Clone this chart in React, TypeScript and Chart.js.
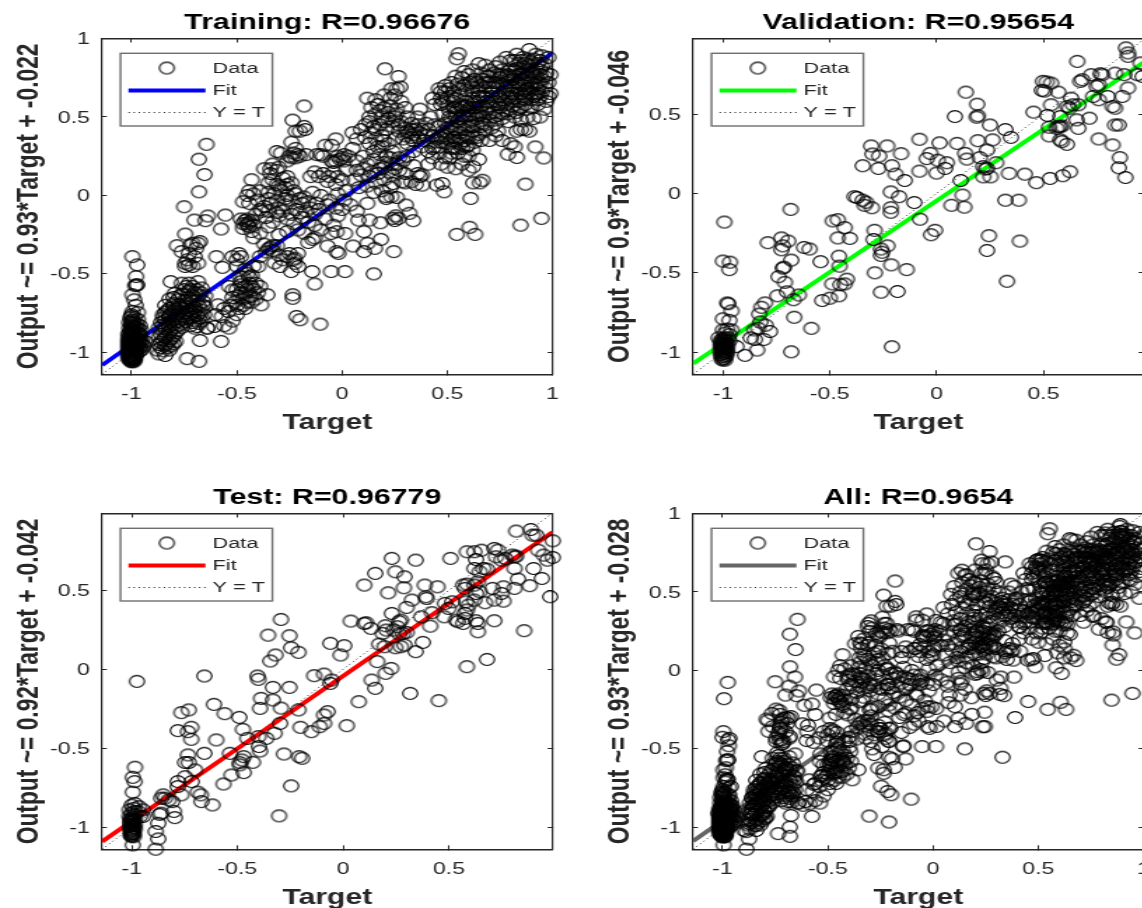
import React, { useEffect, useRef } from "react";
import { Chart, registerables } from "chart.js";

Chart.register(...registerables);

const trainingPoints: number[][] = [
[-0.996,-0.39],[-0.973,-0.443],[-0.978,-0.517],[-0.978,-0.57],[-0.973,-0.57],[-0.982,-0.575],[-0.996,-0.633],[-0.987,-0.665],[-0.98,-0.7],[-0.995,-0.74],[-0.97,-0.745],[-1,-0.77],[-0.985,-0.78],[-0.97,-0.79],[-1,-0.8],[-0.99,-0.81],[-0.975,-0.82],[-0.96,-0.83],[-1,-0.83],[-0.985,-0.84],[-1,-0.85],[-0.97,-0.85],[-0.955,-0.86],[-1,-0.87],[-0.985,-0.87],[-0.965,-0.88],[-1.01,-0.88],[-1,-0.89],[-0.985,-0.9],[-0.96,-0.9],[-1.01,-0.905],[-0.995,-0.91],[-0.975,-0.915],[-0.95,-0.92],[-1.01,-0.925],[-1,-0.93],[-0.985,-0.935],[-0.965,-0.94],[-0.935,-0.93],[-1.01,-0.945],[-1,-0.95],[-0.985,-0.955],[-0.97,-0.96],[-0.95,-0.95],[-1.01,-0.965],[-1,-0.97],[-0.99,-0.975],[-0.975,-0.98],[-0.96,-0.97],[-1.01,-0.985],[-1,-0.99],[-0.99,-0.995],[-0.98,-1],[-1.01,-1.005],[-1,-1.01],[-0.99,-1.015],[-0.98,-1.02],[-1.01,-1.025],[-1,-1.03],[-0.99,-1.035],[-1.005,-1.04],[-0.995,-1.045],[-1,-1.05],[-0.985,-1.05],
[-0.745,-0.246],[-0.784,-0.32],[-0.762,-0.358],[-0.71,-0.305],[-0.684,-0.305],[-0.675,-0.294],[-0.719,-0.316],[-0.693,-0.337],[-0.727,-0.369],[-0.745,-0.432],[-0.71,-0.453],[-0.727,-0.443],[-0.745,-0.453],[-0.684,-0.432],[-0.7,-0.39],[-0.735,-0.41],[-0.597,-0.39],[-0.568,-0.458],[-0.814,-0.549],[-0.762,-0.559],[-0.727,-0.559],[-0.684,-0.549],[-0.71,-0.58],[-0.667,-0.59],[-0.75,-0.6],[-0.69,-0.6],[-0.73,-0.61],[-0.795,-0.625],[-0.77,-0.64],[-0.71,-0.64],[-0.68,-0.635],[-0.65,-0.64],[-0.82,-0.66],[-0.78,-0.665],[-0.75,-0.67],[-0.72,-0.665],[-0.69,-0.67],[-0.66,-0.675],[-0.8,-0.69],[-0.77,-0.695],[-0.74,-0.69],[-0.71,-0.7],[-0.68,-0.705],[-0.65,-0.71],[-0.82,-0.72],[-0.79,-0.725],[-0.76,-0.72],[-0.73,-0.73],[-0.7,-0.735],[-0.67,-0.73],[-0.84,-0.745],[-0.81,-0.75],[-0.78,-0.755],[-0.75,-0.75],[-0.72,-0.76],[-0.69,-0.765],[-0.655,-0.76],[-0.85,-0.78],[-0.82,-0.78],[-0.79,-0.785],[-0.76,-0.79],[-0.73,-0.785],[-0.7,-0.795],[-0.67,-0.8],[-0.86,-0.81],[-0.83,-0.815],[-0.8,-0.82],[-0.77,-0.825],[-0.72,-0.83],[-0.69,-0.835],[-0.64,-0.845],[-0.87,-0.845],[-0.84,-0.85],[-0.81,-0.855],[-0.78,-0.86],[-0.86,-0.885],[-0.83,-0.89],[-0.8,-0.895],[-0.85,-0.92],[-0.82,-0.925],[-0.79,-0.93],[-0.87,-0.95],[-0.84,-0.955],[-0.81,-0.96],[-0.88,-0.985],[-0.85,-0.99],[-0.82,-0.985],[-0.87,-1.01],[-0.84,-1.02],[-0.675,-0.924],[-0.575,-0.93],[-0.736,-1.04],[-0.679,-1.057],[-0.537,-0.845],[-0.606,-0.835],[-0.589,-0.697],[-0.571,-0.771],[-0.641,-0.845],
[-0.644,0.326],[-0.68,0.231],[-0.653,0.133],[-0.679,0.023],[-0.75,-0.072],[-0.701,-0.157],[-0.649,-0.161],[-0.637,-0.131],[-0.554,-0.125],[-0.575,-0.214],
[-0.384,-0.697],[-0.355,-0.633],[-0.433,-0.644],[-0.459,-0.623],[-0.519,-0.602],[-0.537,-0.58],[-0.485,-0.517],[-0.45,-0.496],[-0.398,-0.453],[-0.5,-0.76],[-0.54,-0.74],[-0.47,-0.7],[-0.51,-0.68],[-0.49,-0.64],[-0.52,-0.65],[-0.46,-0.58],[-0.42,-0.6],[-0.4,-0.62],[-0.44,-0.56],[-0.48,-0.55],[-0.47,-0.52],[-0.43,-0.51],[-0.41,-0.66],[-0.56,-0.72],[-0.6,-0.76],[-0.52,-0.8],[-0.56,-0.83],[-0.49,-0.72],[-0.45,-0.68],[-0.5,-0.45],[-0.52,-0.39],[-0.49,-0.37],[-0.5,-0.41],[-0.48,-0.39],[-0.42,-0.45],[-0.46,-0.47],
[-0.234,-0.633],[-0.234,-0.655],[-0.216,-0.771],[-0.199,-0.792],[-0.104,-0.82],[-0.13,-0.564],[-0.142,-0.485],[-0.242,-0.485],[-0.208,-0.453],[-0.294,-0.453],[-0.225,-0.4],[-0.26,-0.39],[-0.225,-0.432],[-0.052,-0.485],[0.014,-0.485],[0.151,-0.5],[0.246,-0.358],[0.104,-0.358],[-0.017,-0.369],[-0.026,-0.358],[0.185,-0.28],[0.156,-0.337],[0.121,-0.305],[0.052,-0.322],[0.104,-0.231],[-0.069,-0.322],[-0.052,-0.242],[0.014,-0.242],[-0.026,-0.231],[0.13,-0.157],[0.078,-0.157],[0.182,-0.174],[0.242,-0.146],[0.268,-0.146],[0.338,-0.161],[0.32,-0.114],[0.303,-0.061],[0.26,-0.013],[0.234,-0.008],[0.208,-0.008],[0.25,-0.16],[0.255,-0.13],
[-0.35,-0.34],[-0.34,-0.33],[-0.33,-0.35],[-0.37,-0.31],[-0.31,-0.32],[-0.39,-0.39],[-0.3,-0.38],[-0.28,-0.41],[-0.32,-0.43],[-0.16,-0.3],[-0.14,-0.28],[-0.13,-0.27],[-0.18,-0.24],[-0.21,-0.22],[-0.26,-0.23],[-0.3,-0.25],[-0.35,-0.2],[-0.39,-0.24],[-0.43,-0.23],[-0.45,-0.19],[-0.44,-0.17],[-0.46,-0.16],[-0.43,-0.16],[-0.48,-0.15],[-0.47,-0.21],[-0.42,-0.27],[-0.41,-0.12],[-0.38,-0.1],[-0.36,-0.14],[-0.33,-0.17],[-0.3,-0.13],[-0.26,-0.15],[-0.23,-0.18],[-0.19,-0.14],[-0.16,-0.17],[-0.13,-0.19],[-0.1,-0.22],[-0.08,-0.15],[-0.04,-0.19],[-0.02,-0.13],[-0.03,-0.08],[-0.07,-0.06],[-0.11,-0.09],[-0.15,-0.08],[-0.19,-0.05],[-0.22,-0.09],[-0.27,-0.06],[-0.3,-0.08],[-0.34,-0.05],[-0.37,-0.07],[-0.4,-0.03],[-0.44,-0.05],[-0.47,-0.04],[-0.45,0],[-0.42,0.01],[-0.39,0.03],[-0.44,0.03],[-0.43,0.1],[-0.35,0.02],[-0.32,0.01],[-0.29,0.03],[-0.26,0],[-0.22,0.01],[-0.18,-0.01],[-0.14,0.02],[-0.1,0],[-0.06,-0.03],[-0.02,0.01],[0.01,-0.03],[0.04,-0.06],[0.07,-0.1],[0,-0.09],[0.02,0.03],
[-0.37,0.17],[-0.34,0.14],[-0.33,0.2],[-0.31,0.16],[-0.35,0.08],[-0.31,0.07],[-0.27,0.05],[-0.28,0.11],[-0.24,0.08],[-0.26,0.22],[-0.29,0.27],[-0.31,0.28],[-0.25,0.25],[-0.23,0.27],[-0.21,0.26],[-0.24,0.34],[-0.22,0.3],[-0.235,0.48],[-0.22,0.41],[-0.2,0.41],[-0.175,0.42],[-0.18,0.44],[-0.18,0.57],[-0.17,0.26],[-0.12,0.26],[-0.1,0.26],[-0.09,0.25],[-0.15,0.12],[-0.11,0.12],[-0.09,0.14],[-0.13,0.15],[-0.06,0.12],[-0.04,0.15],[-0.02,0.12],[-0.07,0.09],[-0.03,0.07],[0,0.1],[0.02,0.16],[-0.05,0.32],[-0.08,0.32],[-0.03,0.36],[-0.02,0.25],[0,0.24],[0.01,0.22],[0.03,0.25],[-0.04,0.21],
[0.05,0.3],[0.07,0.36],[0.05,0.4],[0.09,0.42],[0.11,0.37],[0.13,0.33],[0.16,0.36],[0.14,0.4],[0.11,0.45],[0.13,0.47],[0.16,0.42],[0.19,0.38],[0.17,0.31],[0.1,0.25],[0.07,0.22],[0.12,0.2],[0.15,0.23],[0.18,0.26],[0.21,0.25],[0.24,0.28],[0.27,0.24],[0.24,0.2],[0.2,0.18],[0.17,0.14],[0.13,0.12],[0.09,0.13],[0.06,0.1],[0.08,0.05],[0.12,0.06],[0.16,0.08],[0.2,0.1],[0.24,0.13],[0.27,0.16],[0.23,0.05],[0.19,0.03],[0.15,0.02],[0.21,-0.02],[0.12,-0.05],[0.3,0.08],[0.3,0.14],[0.36,0.14],[0.37,0.12],[0.38,0.13],[0.35,0.07],[0.34,0.19],[0.31,0.25],[0.34,0.28],
[0.204,0.807],[0.268,0.758],[0.277,0.691],[0.235,0.68],[0.26,0.68],[0.12,0.62],[0.16,0.61],[0.2,0.64],[0.23,0.62],[0.25,0.64],[0.28,0.6],[0.14,0.56],[0.17,0.58],[0.2,0.56],[0.23,0.57],[0.26,0.55],[0.3,0.56],[0.13,0.5],[0.16,0.52],[0.19,0.5],[0.22,0.49],[0.25,0.5],[0.28,0.47],[0.31,0.5],[0.18,0.45],[0.21,0.42],[0.24,0.44],[0.27,0.41],[0.3,0.43],[0.33,0.46],[0.36,0.5],[0.37,0.55],[0.42,0.5],[0.4,0.46],[0.36,0.45],[0.33,0.42],[0.3,0.38],[0.34,0.35],[0.37,0.4],[0.41,0.42],[0.44,0.45],[0.31,0.33],[0.29,0.36],[0.34,0.39],[0.39,0.35],[0.43,0.38],[0.38,0.31],[0.41,0.28],[0.44,0.31],[0.47,0.34],[0.49,0.38],[0.43,0.24],[0.46,0.27],[0.49,0.24],[0.52,0.3],[0.41,0.2],[0.47,0.2],[0.5,0.18],[0.54,0.17],[0.57,0.2],[0.6,0.25],[0.62,0.29],[0.65,0.23],[0.6,0.16],
[0.554,0.903],[0.545,0.871],[0.611,-0.019],[0.545,-0.248],[0.606,-0.203],[0.632,-0.248],[0.848,-0.189],[0.947,-0.146],[0.871,0.072],[0.623,0.08],[0.654,0.08],[0.667,0.097],[0.623,0.182],[0.485,0.023],[0.45,0.066],[0.476,0.076],[0.381,0.066],[0.329,0.087],[0.286,0.087],[0.242,0.076],[0.958,0.239],[0.918,0.309],[0.831,0.242],[0.788,0.263],[0.82,0.31],[0.8,0.33],[0.76,0.35],[0.7,0.35],[0.73,0.38],[0.83,0.41],[0.85,0.42],[0.87,0.42],[0.89,0.41],
[0.49,0.7],[0.46,0.68],[0.47,0.62],[0.5,0.62],[0.52,0.72],[0.55,0.71],[0.57,0.75],[0.6,0.77],[0.63,0.74],[0.66,0.78],[0.69,0.76],[0.72,0.72],[0.75,0.75],[0.53,0.66],[0.56,0.64],[0.59,0.67],[0.62,0.69],[0.65,0.66],[0.68,0.69],[0.71,0.66],[0.74,0.69],[0.77,0.66],[0.8,0.7],[0.83,0.72],[0.86,0.7],[0.89,0.73],[0.92,0.71],[0.95,0.74],[0.98,0.72],[0.5,0.57],[0.53,0.6],[0.56,0.58],[0.59,0.6],[0.62,0.62],[0.65,0.6],[0.68,0.62],[0.71,0.6],[0.74,0.62],[0.77,0.6],[0.8,0.63],[0.83,0.65],[0.86,0.63],[0.89,0.66],[0.92,0.64],[0.95,0.66],[0.98,0.63],[0.48,0.52],[0.51,0.5],[0.54,0.53],[0.57,0.51],[0.6,0.54],[0.63,0.56],[0.66,0.53],[0.69,0.55],[0.72,0.53],[0.75,0.56],[0.78,0.54],[0.81,0.57],[0.84,0.55],[0.87,0.58],[0.9,0.56],[0.93,0.58],[0.96,0.55],[0.46,0.44],[0.49,0.46],[0.52,0.44],[0.55,0.47],[0.58,0.45],[0.61,0.47],[0.64,0.49],[0.67,0.46],[0.7,0.48],[0.73,0.46],[0.76,0.49],[0.79,0.47],[0.82,0.5],[0.85,0.48],[0.88,0.5],[0.91,0.49],[0.94,0.5],[0.47,0.37],[0.5,0.39],[0.53,0.37],[0.56,0.4],[0.59,0.38],[0.62,0.41],[0.65,0.39],[0.68,0.41],[0.71,0.43],[0.74,0.41],[0.5,0.33],[0.53,0.31],[0.56,0.33],[0.59,0.31],[0.63,0.34],[0.66,0.35],[0.55,0.27],[0.58,0.25],
[0.43,0.62],[0.44,0.58],[0.47,0.58],[0.54,0.76],[0.58,0.79],[0.62,0.8],[0.65,0.84],[0.68,0.83],[0.7,0.8],[0.73,0.82],[0.76,0.8],[0.79,0.77],[0.82,0.8],[0.85,0.78],[0.88,0.8],[0.91,0.78],[0.94,0.8],[0.97,0.78],[0.99,0.77],[0.78,0.88],[0.8,0.86],[0.83,0.9],[0.86,0.88],[0.89,0.93],[0.92,0.9],[0.95,0.89],[0.98,0.88],[0.75,0.85],[0.84,0.84],[0.87,0.84],[0.9,0.85],[0.93,0.84],[0.96,0.84],[0.61,0.72],[0.64,0.72],[0.67,0.74],[0.7,0.72],[0.78,0.72],[0.81,0.74],[0.84,0.68],[0.87,0.67],[0.9,0.69],[0.93,0.68],[0.96,0.69],[0.99,0.65],[0.97,0.6],[0.93,0.61],[0.9,0.61],[0.87,0.61],[0.84,0.6],[0.81,0.6],[0.78,0.58],[0.74,0.58],[0.7,0.57],[0.66,0.57],[0.62,0.58],[0.58,0.57],[0.54,0.56],
];

const trainingDensePoints: number[][] = [
[-1,-0.76],[-1.005,-0.78],[-0.995,-0.795],[-1.01,-0.81],[-1,-0.82],[-0.99,-0.835],[-1.01,-0.845],[-1,-0.855],[-0.99,-0.86],[-1.005,-0.865],[-0.995,-0.875],[-1.015,-0.885],[-1.005,-0.895],[-0.995,-0.9],[-0.98,-0.91],[-1.015,-0.915],[-1.005,-0.92],[-0.995,-0.925],[-0.98,-0.93],[-1.015,-0.935],[-1.005,-0.94],[-0.995,-0.945],[-0.98,-0.945],[-1.015,-0.955],[-1.005,-0.96],[-0.995,-0.965],[-0.98,-0.965],[-1.015,-0.975],[-1.005,-0.98],[-0.995,-0.985],[-0.98,-0.985],[-1.015,-0.995],[-1.005,-1],[-0.995,-1.005],[-0.98,-1.01],[-1.015,-1.015],[-1.005,-1.02],[-0.995,-1.025],[-0.985,-1.03],[-1.015,-1.035],[-1.005,-1.03],[-0.995,-1.035],[-0.985,-1.04],[-1.01,-1.045],[-1,-1.04],[-0.99,-1.045],[-1.005,-1.055],[-0.995,-1.055],[-1,-1.06],[-0.99,-1.06],[-0.97,-1.0],[-0.96,-0.99],[-0.95,-0.98],[-0.94,-0.96],[-0.97,-0.94],[-0.955,-0.935],[-0.965,-0.92],[-0.96,-0.885],[-0.975,-0.87],[-0.975,-0.84],
[-0.84,-0.7],[-0.8,-0.71],[-0.77,-0.71],[-0.74,-0.71],[-0.7,-0.715],[-0.66,-0.7],[-0.83,-0.735],[-0.8,-0.74],[-0.77,-0.74],[-0.74,-0.745],[-0.71,-0.75],[-0.68,-0.75],[-0.85,-0.76],[-0.82,-0.765],[-0.79,-0.765],[-0.75,-0.775],[-0.71,-0.775],[-0.68,-0.78],[-0.84,-0.795],[-0.81,-0.8],[-0.78,-0.805],[-0.74,-0.805],[-0.71,-0.81],[-0.68,-0.815],[-0.85,-0.825],[-0.82,-0.835],[-0.79,-0.84],[-0.76,-0.84],[-0.7,-0.845],[-0.85,-0.865],[-0.82,-0.87],[-0.79,-0.875],[-0.87,-0.9],[-0.84,-0.905],[-0.81,-0.91],[-0.86,-0.935],[-0.83,-0.94],[-0.8,-0.945],[-0.86,-0.97],[-0.83,-0.97],[-0.73,-0.65],[-0.76,-0.63],[-0.7,-0.62],[-0.67,-0.62],[-0.8,-0.65],[-0.72,-0.6],[-0.74,-0.58],
[-0.5,-0.6],[-0.48,-0.62],[-0.45,-0.6],[-0.47,-0.66],[-0.44,-0.64],[-0.43,-0.68],[-0.5,-0.7],[-0.46,-0.72],[-0.53,-0.7],[-0.48,-0.57],[-0.43,-0.58],[-0.41,-0.56],[-0.39,-0.58],[-0.44,-0.52],
[-0.45,-0.18],[-0.47,-0.18],[-0.44,-0.2],[-0.45,-0.15],[-0.42,-0.19],[-0.36,-0.36],[-0.33,-0.32],[-0.25,-0.37],[-0.23,-0.41],[-0.21,-0.37],[-0.39,-0.09],[-0.35,-0.1],[-0.31,-0.11],[-0.28,-0.1],[-0.24,-0.12],[-0.2,-0.11],[-0.17,-0.1],[-0.13,-0.12],[-0.35,-0.02],[-0.31,-0.03],[-0.27,-0.02],[-0.24,-0.03],[-0.2,-0.02],[-0.16,-0.04],[-0.12,-0.05],[-0.3,0.06],[-0.26,0.07],[-0.23,0.03],[-0.33,0.1],[-0.26,0.12],[-0.34,0.17],[-0.3,0.18],[-0.24,0.24],[-0.22,0.24],[-0.2,0.25],[-0.05,0.22],[-0.03,0.22],[-0.01,0.23],[0.01,0.26],
[0.14,0.15],[0.18,0.17],[0.22,0.15],[0.25,0.17],[0.2,0.21],[0.23,0.24],[0.26,0.2],[0.29,0.22],[0.1,0.17],[0.07,0.16],[0.15,0.28],[0.19,0.31],[0.22,0.33],[0.25,0.36],[0.2,0.35],[0.15,0.44],[0.2,0.47],[0.24,0.47],[0.27,0.45],[0.18,0.54],[0.22,0.53],[0.26,0.52],[0.32,0.4],[0.35,0.42],[0.38,0.42],[0.31,0.41],[0.33,0.37],[0.36,0.37],[0.4,0.38],[0.42,0.34],[0.45,0.36],[0.46,0.31],[0.43,0.3],
[0.47,0.66],[0.49,0.66],[0.51,0.68],[0.48,0.6],[0.52,0.63],[0.54,0.62],[0.56,0.68],[0.58,0.7],[0.6,0.71],[0.62,0.66],[0.64,0.69],[0.66,0.7],[0.68,0.72],[0.7,0.69],[0.72,0.69],[0.73,0.72],[0.76,0.71],[0.78,0.69],[0.8,0.67],[0.82,0.69],[0.84,0.71],[0.85,0.74],[0.87,0.72],[0.88,0.75],[0.9,0.72],[0.91,0.75],[0.93,0.72],[0.94,0.71],[0.51,0.54],[0.53,0.56],[0.55,0.55],[0.57,0.56],[0.59,0.57],[0.61,0.56],[0.63,0.6],[0.65,0.63],[0.67,0.63],[0.69,0.6],[0.71,0.63],[0.73,0.6],[0.75,0.63],[0.76,0.61],[0.79,0.62],[0.81,0.65],[0.82,0.62],[0.85,0.65],[0.87,0.64],[0.88,0.68],[0.9,0.65],[0.91,0.63],[0.93,0.65],[0.94,0.63],[0.52,0.49],[0.54,0.5],[0.56,0.49],[0.58,0.5],[0.6,0.51],[0.62,0.52],[0.64,0.53],[0.65,0.51],[0.67,0.5],[0.68,0.53],[0.7,0.52],[0.72,0.5],[0.74,0.51],[0.76,0.52],[0.79,0.52],[0.8,0.55],[0.83,0.53],[0.85,0.56],[0.88,0.55],[0.5,0.43],[0.52,0.41],[0.54,0.42],[0.56,0.44],[0.58,0.42],[0.6,0.44],[0.62,0.44],[0.64,0.45],[0.66,0.44],[0.68,0.45],[0.48,0.41],[0.5,0.36],[0.52,0.35],[0.54,0.35],[0.56,0.36],[0.58,0.35],[0.6,0.37],[0.62,0.37],[0.64,0.37],[0.52,0.27],[0.54,0.3],[0.57,0.3],[0.6,0.32],[0.51,0.24],
[0.7,0.76],[0.72,0.78],[0.74,0.77],[0.76,0.77],[0.78,0.76],[0.8,0.76],[0.82,0.76],[0.84,0.77],[0.86,0.78],[0.88,0.77],[0.9,0.79],[0.92,0.76],[0.94,0.77],[0.96,0.76],[0.8,0.8],[0.83,0.81],[0.86,0.82],[0.89,0.83],[0.92,0.81],[0.95,0.82],[0.82,0.86],[0.85,0.86],[0.88,0.87],[0.91,0.87],[0.94,0.86],
];

const validationPoints: number[][] = [
[-0.993,-0.18],[-1,-0.426],[-0.967,-0.433],[-0.97,-0.48],[-0.98,-0.69],[-0.975,-0.695],[-0.96,-0.74],[-1,-0.79],[-0.97,-0.8],[-0.98,-0.855],[-0.96,-0.86],[-1,-0.86],[-1.02,-0.91],[-0.99,-0.88],[-0.97,-0.89],[-0.99,-0.91],[-1,-0.93],[-0.985,-0.94],[-1.005,-0.95],[-0.99,-0.96],[-1,-0.97],[-0.985,-0.98],[-1.005,-0.99],[-0.99,-1],[-1,-1.01],[-0.985,-1.02],[-1.005,-1.03],[-0.995,-1.04],[-1,-1.05],[-0.98,-0.95],[-0.97,-0.93],
[-1,-0.915],[-1.01,-0.925],[-0.99,-0.925],[-1.01,-0.94],[-1,-0.945],[-0.99,-0.945],[-1.01,-0.96],[-1,-0.96],[-0.99,-0.975],[-1.01,-0.975],[-1,-0.985],[-0.985,-0.995],[-1.01,-1],[-1,-1],[-0.99,-1.01],[-1.01,-1.015],[-1,-1.025],[-0.99,-1.03],[-1.005,-1.045],[-0.99,-1.05],[-0.98,-1.0],[-0.98,-0.97],[-0.975,-0.91],
[-0.683,-0.1],[-0.79,-0.31],[-0.726,-0.28],[-0.695,-0.3],[-0.726,-0.355],[-0.72,-0.33],[-0.62,-0.34],[-0.594,-0.35],[-0.68,-0.42],[-0.543,-0.43],[-0.714,-0.465],[-0.72,-0.47],[-0.74,-0.525],[-0.71,-0.56],[-0.745,-0.645],[-0.645,-0.64],[-0.7,-0.62],[-0.67,-0.67],[-0.535,-0.675],[-0.5,-0.66],[-0.457,-0.645],[-0.488,-0.57],[-0.45,-0.575],[-0.43,-0.57],[-0.42,-0.54],[-0.454,-0.458],[-0.457,-0.395],[-0.462,-0.28],[-0.406,-0.283],[-0.43,-0.215],[-0.486,-0.173],[-0.462,-0.165],
[-0.803,-0.69],[-0.82,-0.717],[-0.83,-0.76],[-0.825,-0.81],[-0.835,-0.85],[-0.853,-0.86],[-0.8,-0.83],[-0.78,-0.87],[-0.808,-0.92],[-0.85,-0.92],[-0.87,-0.91],[-0.84,-0.987],[-0.897,-1.02],[-0.937,-0.965],[-0.68,-0.998],[-0.666,-0.78],[-0.586,-0.85],[-0.209,-0.966],[-0.26,-0.622],[-0.183,-0.618],[-0.289,-0.5],[-0.212,-0.45],[-0.14,-0.48],[-0.23,-0.33],[-0.26,-0.35],[-0.255,-0.37],[-0.26,-0.39],[-0.295,-0.29],[-0.29,-0.232],[-0.026,-0.26],[-0.007,-0.232],[-0.077,-0.162],[-0.104,-0.057],[-0.175,-0.02],[-0.214,0.01],[-0.214,-0.09],[-0.214,-0.118],[-0.303,-0.09],[-0.337,-0.074],[-0.346,-0.042],[-0.372,-0.025],[-0.384,-0.02],[-0.33,-0.055],
[-0.149,0.082],[-0.192,0.122],[-0.272,0.158],[-0.346,0.175],[-0.209,0.175],[-0.269,0.236],[-0.3,0.249],[-0.306,0.3],[-0.231,0.3],[-0.166,0.251],[-0.08,0.342],[-0.029,0.253],[-0.046,0.22],[0.005,0.21],[0.048,0.194],[0.04,0.158],[-0.08,0.141],[0,0.129],[0.014,0.319],[0.096,0.316],[0.134,0.253],[0.142,0.217],[0.113,0.082],[0.122,-0.01],[0.07,-0.074],[0.13,-0.086],[0.086,0.485],[0.137,0.639],[0.19,0.563],[0.193,0.49],[0.188,0.481],[0.25,0.432],[0.193,0.333],[0.262,0.338],[0.322,0.403],[0.348,0.354],[0.236,0.274],[0.202,0.226],[0.219,0.169],[0.228,0.154],[0.236,0.158],[0.279,0.194],[0.219,0.105],[0.253,0.105],[0.339,0.127],[0.413,0.122],[0.467,0.068],[0.531,0.095],[0.591,0.112],[0.625,0.137],[0.322,-0.042],[0.385,-0.042],[0.245,-0.266],[0.39,-0.3],[0.236,-0.359],[0.33,-0.553],
[0.454,0.513],[0.498,0.707],[0.515,0.703],[0.536,0.696],[0.493,0.65],[0.505,0.646],[0.57,0.639],[0.536,0.559],[0.519,0.492],[0.527,0.418],[0.527,0.363],[0.579,0.485],[0.57,0.422],[0.579,0.422],[0.587,0.426],[0.562,0.411],[0.579,0.338],[0.587,0.327],[0.61,0.31],[0.613,0.549],[0.639,0.559],[0.63,0.601],[0.622,0.538],[0.664,0.559],[0.656,0.464],[0.664,0.411],[0.716,0.475],[0.659,0.833],[0.673,0.707],[0.682,0.717],[0.724,0.749],[0.767,0.755],[0.776,0.749],[0.733,0.612],[0.759,0.591],[0.75,0.675],[0.759,0.686],[0.801,0.612],[0.759,0.344],[0.824,0.306],[0.824,0.549],[0.836,0.538],[0.853,0.432],[0.836,0.432],[0.858,0.226],[0.853,0.162],[0.884,0.101],[0.87,0.612],[0.896,0.665],[0.836,0.759],[0.887,0.918],[0.896,0.886],[0.896,0.865],[0.878,0.749],[0.94,0.749],[0.955,0.823],[0.964,0.738],
];

const testPoints: number[][] = [
[-0.975,-0.076],[-0.984,-0.62],[-0.995,-0.684],[-0.986,-0.711],[-0.995,-0.778],[-0.995,-1.112],[-0.886,-1.139],[-0.874,-1.074],[-0.886,-1.027],[-0.874,-0.975],[-0.868,-0.918],[-0.86,-0.911],[-0.796,-0.939],[-0.8,-0.9],[-0.946,-0.932],[-0.946,-0.89],[-0.851,-0.795],[-0.86,-0.816],[-0.825,-0.827],[-0.808,-0.838],[-0.843,-0.816],
[-1,-0.86],[-0.985,-0.85],[-0.965,-0.87],[-1.01,-0.89],[-0.99,-0.88],[-0.97,-0.9],[-1,-0.91],[-0.985,-0.92],[-1.01,-0.93],[-0.995,-0.94],[-1,-0.95],[-0.99,-0.96],[-1.005,-0.97],[-0.995,-0.98],[-1,-0.99],[-0.99,-1],[-1.005,-1.01],[-0.995,-1.02],[-1,-1.03],[-0.99,-1.04],[-1,-1.05],[-0.96,-0.93],
[-1.005,-0.945],[-0.995,-0.955],[-1.005,-0.96],[-0.995,-0.965],[-1.005,-0.98],[-0.995,-0.99],[-1.005,-0.995],[-0.995,-1.005],[-1,-1.015],[-1.005,-1.025],[-0.995,-1.03],[-1,-1.04],[-1.005,-1.05],[-0.995,-1.05],[-1,-1.06],[-0.99,-1.06],[-0.985,-0.98],[-0.985,-1.01],[-0.985,-0.95],[-0.985,-0.9],
[-0.782,-0.743],[-0.782,-0.711],[-0.747,-0.68],[-0.716,-0.711],[-0.687,-0.778],[-0.67,-0.838],[-0.618,-0.859],[-0.673,-0.795],[-0.765,-0.795],[-0.7,-0.637],[-0.747,-0.59],[-0.73,-0.59],[-0.734,-0.542],[-0.656,-0.532],[-0.718,-0.443],[-0.734,-0.395],[-0.782,-0.388],[-0.718,-0.367],[-0.765,-0.274],[-0.73,-0.257],
[-0.656,-0.042],[-0.611,-0.222],[-0.56,-0.281],[-0.491,-0.304],[-0.474,-0.38],[-0.6,-0.447],[-0.535,-0.532],[-0.566,-0.726],[-0.528,-0.669],[-0.47,-0.654],[-0.488,-0.605],[-0.479,-0.574],[-0.47,-0.553],[-0.488,-0.591],[-0.427,-0.589],[-0.453,-0.437],[-0.401,-0.426],[-0.398,-0.489],[-0.393,-0.517],[-0.363,-0.437],[-0.324,-0.405],[-0.298,-0.342],[-0.28,-0.536],[-0.246,-0.738],[-0.303,-0.928],[-0.208,-0.553],[-0.194,-0.563],
[-0.393,-0.247],[-0.388,-0.184],[-0.332,-0.194],[-0.332,-0.114],[-0.254,-0.114],[-0.294,-0.245],[-0.211,-0.257],[-0.405,-0.042],[-0.401,-0.063],[-0.344,0.053],[-0.32,0.091],[-0.246,0.137],[-0.211,0.108],[-0.355,0.217],[-0.254,0.213],[-0.294,0.316],
[-0.137,-0.04],[-0.09,-0.03],[-0.055,-0.068],[-0.061,-0.089],[-0.061,0.165],[0.005,0.15],[-0.012,0.091],[0.036,0.306],[0.1,0.291],[0.109,0.295],[0.131,0.26],[-0.15,-0.395],[-0.111,-0.363],[-0.09,-0.342],[-0.09,-0.289],[-0.073,-0.268],[-0.202,-0.367],[0.017,-0.357],[0.074,-0.205],
[0.161,0.049],[0.135,-0.068],[0.152,-0.12],[0.201,-0.025],[0.227,0.006],[0.317,-0.152],[0.452,-0.198],[0.17,0.16],[0.196,0.143],[0.247,0.137],[0.273,0.143],[0.343,0.112],[0.377,0.171],[0.29,0.154],[0.265,0.224],[0.282,0.228],[0.3,0.234],[0.2,0.276],[0.187,0.228],[0.204,0.249],[0.239,0.249],[0.256,0.27],[0.23,0.354],[0.273,0.312],[0.265,0.302],[0.3,0.392],[0.213,0.485],[0.287,0.517],[0.1,0.534],[0.152,0.608],[0.23,0.703],[0.247,0.618],[0.29,0.586],[0.343,0.692],[0.325,0.439],[0.386,0.534],[0.391,0.46],[0.394,0.449],[0.446,0.523],[0.369,0.333],[0.42,0.359],[0.412,0.274],[0.478,0.333],[0.481,0.418],[0.507,0.703],[0.516,0.428],[0.498,0.386],
[0.542,0.302],[0.567,0.291],[0.576,0.323],[0.533,0.312],[0.585,0.376],[0.576,0.354],[0.593,0.407],[0.581,0.428],[0.567,0.534],[0.576,0.513],[0.585,0.54],[0.62,0.439],[0.628,0.481],[0.585,0.745],[0.62,0.745],[0.654,0.755],[0.628,0.696],[0.62,0.639],[0.645,0.618],[0.68,0.635],[0.663,0.639],[0.637,0.555],[0.62,0.534],[0.645,0.492],[0.585,0.017],[0.68,0.063],[0.637,0.238],[0.637,0.291],[0.628,0.308],[0.715,0.308],[0.671,0.422],[0.706,0.513],[0.758,0.523],[0.715,0.439],[0.758,0.432],[0.749,0.481],[0.715,0.766],[0.732,0.755],[0.723,0.713],[0.749,0.692],[0.766,0.703],[0.801,0.724],[0.81,0.713],[0.818,0.717],[0.81,0.639],[0.827,0.572],[0.81,0.513],[0.856,0.245],[0.818,0.876],[0.888,0.886],[0.896,0.85],[0.913,0.85],[0.922,0.755],[0.948,0.724],[0.9,0.639],[0.882,0.53],[0.94,0.576],[0.965,0.692],[0.991,0.709],[0.991,0.814],[0.979,0.46],
];

const allTrainingPoints: number[][] = [...trainingPoints, ...trainingDensePoints];
const allPoints: number[][] = [...allTrainingPoints, ...validationPoints, ...testPoints];

const xTickValues = [-1, -0.5, 0, 0.5, 1];
const yTickValues = [-1, -0.5, 0, 0.5, 1];
const legendLabels = ["Data", "Fit", "Y = T"];
const xAxisLabel = "Target";

const trainingFit = [[-1.14, -1.082], [1, 0.908]];
const validationFit = [[-1.14, -1.072], [0.969, 0.826]];
const testFit = [[-1.14, -1.091], [0.99, 0.869]];
const allFit = [[-1.14, -1.088], [1, 0.902]];

const identityEnds = [-1.14, 1];

const STRETCH = 1.4;
const FONT = '"Liberation Sans", Arial, sans-serif';
const CW = 408;
const CH = 440;
const GUTTER = 72.86;
const PLOT_W = 321.8;
const PLOT_H = 335.8;
const PLOT_TOP = 38.5;

const panels = [
  { title: "Training: R=0.96676", yLabel: "Output ~= 0.93*Target + -0.022", points: allTrainingPoints, fit: trainingFit, color: "#0000ff", left: 0, top: 0, xMax: 1, yMax: 1 },
  { title: "Validation: R=0.95654", yLabel: "Output ~= 0.9*Target + -0.046", points: validationPoints, fit: validationFit, color: "#00ff00", left: 590.6, top: 0, xMax: 0.969, yMax: 0.977 },
  { title: "Test: R=0.96779", yLabel: "Output ~= 0.92*Target + -0.042", points: testPoints, fit: testFit, color: "#ff0000", left: 0, top: 474.8, xMax: 0.99, yMax: 0.987 },
  { title: "All: R=0.9654", yLabel: "Output ~= 0.93*Target + -0.028", points: allPoints, fit: allFit, color: "#666666", left: 590.6, top: 474.8, xMax: 1, yMax: 1 },
];

function makeMarker(): HTMLCanvasElement {
  const c = document.createElement("canvas");
  c.width = 14;
  c.height = 15;
  const g = c.getContext("2d")!;
  g.strokeStyle = "#000";
  g.lineWidth = 1.05;
  g.beginPath();
  g.ellipse(7, 7.5, 5.3, 5.9, 0, 0, Math.PI * 2);
  g.stroke();
  return c;
}

function legendPlugin(color: string, marker: HTMLCanvasElement) {
  return {
    id: "boxLegend",
    afterDraw(chart: any) {
      const { ctx, chartArea } = chart;
      const x0 = chartArea.left;
      const y0 = chartArea.top;
      ctx.save();
      ctx.fillStyle = "#fff";
      ctx.strokeStyle = "#6e6e6e";
      ctx.lineWidth = 1.4;
      ctx.fillRect(x0 + 13.2, y0 + 14.8, 108.5, 72.7);
      ctx.strokeRect(x0 + 13.2, y0 + 14.8, 108.5, 72.7);
      ctx.drawImage(marker, x0 + 46.3 - 7, y0 + 29.5 - 7.5);
      ctx.strokeStyle = color;
      ctx.lineWidth = 3.8;
      ctx.beginPath();
      ctx.moveTo(x0 + 18.9, y0 + 52);
      ctx.lineTo(x0 + 73.9, y0 + 52);
      ctx.stroke();
      ctx.strokeStyle = "#222";
      ctx.lineWidth = 1;
      ctx.setLineDash([1, 2.6]);
      ctx.beginPath();
      ctx.moveTo(x0 + 18.9, y0 + 74);
      ctx.lineTo(x0 + 73.9, y0 + 74);
      ctx.stroke();
      ctx.setLineDash([]);
      ctx.fillStyle = "#262626";
      ctx.font = `15.5px ${FONT}`;
      ctx.textBaseline = "middle";
      ctx.textAlign = "left";
      legendLabels.forEach((label, i) => {
        ctx.fillText(label, x0 + 78.9, y0 + [30, 52.5, 74.5][i]);
      });
      ctx.restore();
    },
  };
}

function Panel({ p }: { p: (typeof panels)[number] }) {
  const ref = useRef<HTMLCanvasElement>(null);
  useEffect(() => {
    const marker = makeMarker();
    const xt = xTickValues.filter((v) => v <= p.xMax);
    const yt = yTickValues.filter((v) => v <= p.yMax);
    const setX = (s: any) => { s.ticks = xt.map((value) => ({ value })); };
    const setY = (s: any) => { s.ticks = yt.map((value) => ({ value })); };
    const axisColor = "#262626";
    const chart = new Chart(ref.current!, {
      type: "scatter",
      data: {
        datasets: [
          {
            label: legendLabels[0],
            data: p.points.map(([x, y]) => ({ x, y })),
            pointStyle: marker as any,
            pointRadius: 6.5,
            showLine: false,
            clip: false as any,
          },
          {
            label: legendLabels[1],
            data: p.fit.map(([x, y]) => ({ x, y })),
            borderColor: p.color,
            borderWidth: 3.8,
            pointRadius: 0,
            showLine: true,
          },
          {
            label: legendLabels[2],
            data: identityEnds.map((v) => ({ x: v, y: v })),
            borderColor: "#222",
            borderWidth: 1,
            borderDash: [1, 2.6],
            pointRadius: 0,
            showLine: true,
          },
        ],
      },
      options: {
        responsive: false,
        animation: false,
        devicePixelRatio: 1,
        layout: { padding: { left: 0, right: CW - GUTTER - PLOT_W, top: 0, bottom: 0 } },
        plugins: {
          legend: { display: false },
          tooltip: { enabled: false },
          title: {
            display: true,
            text: p.title,
            fullSize: false,
            color: "#000",
            font: { family: FONT, size: 21.7, weight: "bold" },
            padding: { top: 10, bottom: 2.46 },
          },
        },
        scales: {
          x: {
            type: "linear",
            position: "bottom",
            min: -1.14,
            max: p.xMax,
            afterBuildTicks: setX,
            afterFit: (s: any) => { s.height = CH - PLOT_TOP - PLOT_H; s.paddingLeft = 0; s.paddingRight = 0; },
            border: { display: true, color: axisColor, width: 1.5 },
            grid: { drawOnChartArea: false, drawTicks: true, tickLength: -4, color: axisColor, tickWidth: 1 },
            ticks: {
              autoSkip: false, maxRotation: 0, minRotation: 0, padding: 14, color: axisColor,
              font: { family: FONT, size: 16.5 },
              callback: (v: any) => String(v),
            },
            title: {
              display: true, text: xAxisLabel, color: axisColor,
              font: { family: FONT, size: 21.5, weight: "bold" },
              padding: { top: 0, bottom: 4.4 },
            },
          },
          y: {
            type: "linear",
            position: "left",
            min: -1.14,
            max: p.yMax,
            afterBuildTicks: setY,
            afterFit: (s: any) => { s.width = GUTTER; s.paddingTop = 0; s.paddingBottom = 0; },
            border: { display: true, color: axisColor, width: 1.2 },
            grid: { drawOnChartArea: false, drawTicks: true, tickLength: -3.5, color: axisColor, tickWidth: 1 },
            ticks: {
              autoSkip: false, padding: 12.1, color: axisColor, labelOffset: 1,
              font: { family: FONT, size: 16.5 },
              callback: (v: any) => String(v),
            },
            title: {
              display: true, text: p.yLabel, color: axisColor,
              font: { family: FONT, size: 22.8, weight: "bold" },
              padding: { top: 6.6, bottom: 0 },
            },
          },
          xTop: {
            type: "linear",
            position: "top",
            min: -1.14,
            max: p.xMax,
            afterBuildTicks: setX,
            afterFit: (s: any) => { s.height = 0; },
            border: { display: true, color: axisColor, width: 1.5 },
            grid: { drawOnChartArea: false, drawTicks: true, tickLength: -4, color: axisColor, tickWidth: 1 },
            ticks: { display: false },
          },
          yRight: {
            type: "linear",
            position: "right",
            min: -1.14,
            max: p.yMax,
            afterBuildTicks: setY,
            afterFit: (s: any) => { s.width = 0; },
            border: { display: true, color: axisColor, width: 1.2 },
            grid: { drawOnChartArea: false, drawTicks: true, tickLength: -3.5, color: axisColor, tickWidth: 1 },
            ticks: { display: false },
          },
        },
      } as any,
      plugins: [legendPlugin(p.color, marker)],
    });
    return () => chart.destroy();
  }, [p]);
  return (
    <div
      style={{
        position: "absolute",
        left: p.left,
        top: p.top,
        width: CW,
        height: CH,
        transform: `scaleX(${STRETCH})`,
        transformOrigin: "0 0",
      }}
    >
      <canvas ref={ref} width={CW} height={CH} style={{ display: "block", width: CW, height: CH }} />
    </div>
  );
}

export default function App() {
  return (
    <div style={{ position: "absolute", left: 0, top: 0, width: 1142, height: 908, overflow: "hidden", background: "#fff" }}>
      {panels.map((p) => (
        <Panel key={p.title} p={p} />
      ))}
    </div>
  );
}
